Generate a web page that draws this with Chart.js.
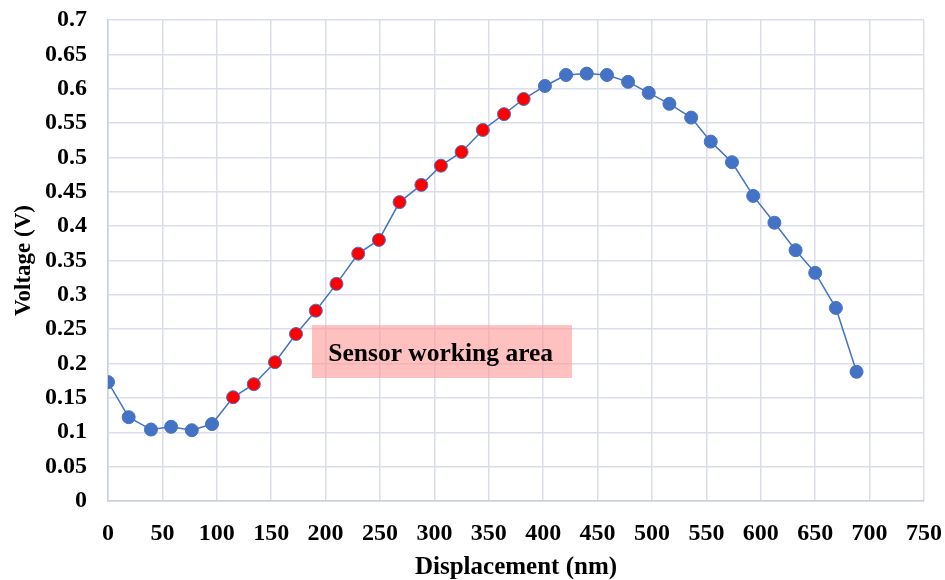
<!DOCTYPE html>
<html>
<head>
<meta charset="utf-8">
<script src="https://cdn.jsdelivr.net/npm/chart.js@4/dist/chart.umd.min.js"></script>
<style>
  html, body { margin: 0; padding: 0; background: #ffffff; }
  #wrap { width: 945px; height: 580px; position: relative; }
</style>
</head>
<body>
<div id="wrap"><canvas id="c" width="945" height="580"></canvas></div>
<script>
// Data
const displacement = [0, 19, 39.5, 58, 77, 95.6, 115, 134, 153.5, 172.8, 191, 210, 230, 249, 268, 288, 306, 325, 344.5, 364, 382, 401.6, 421, 440, 458.6, 478, 497, 516, 536, 554, 573.5, 593, 612.5, 632, 650, 669, 688];
const voltage = [0.173, 0.122, 0.104, 0.108, 0.103, 0.112, 0.151, 0.170, 0.202, 0.243, 0.277, 0.316, 0.360, 0.380, 0.435, 0.460, 0.488, 0.508, 0.540, 0.563, 0.585, 0.604, 0.620, 0.622, 0.620, 0.610, 0.594, 0.578, 0.558, 0.523, 0.493, 0.444, 0.405, 0.365, 0.332, 0.281, 0.188];
// working-area points (red), by index range
const workingStart = 6;
const workingEnd = 20;
const xTicks = [0, 50, 100, 150, 200, 250, 300, 350, 400, 450, 500, 550, 600, 650, 700, 750];
const yTicks = [0, 0.05, 0.1, 0.15, 0.2, 0.25, 0.3, 0.35, 0.4, 0.45, 0.5, 0.55, 0.6, 0.65, 0.7];
const annotationLabel = "Sensor working area";
const annotationBox = { xMin: 187.5, xMax: 426.5, yMin: 0.179, yMax: 0.256, textX: 202.5 };

const BLUE = '#4472C4';
const RED = '#FF0000';
const FONT = '"Liberation Serif", "Times New Roman", serif';

const points = displacement.map((x, i) => ({ x: x, y: voltage[i] }));
const fillColors = voltage.map((_, i) => (i >= workingStart && i <= workingEnd) ? RED : BLUE);

const boxPlugin = {
  id: 'workBox',
  afterDatasetsDraw(chart) {
    const { ctx, scales } = chart;
    const x1 = scales.x.getPixelForValue(annotationBox.xMin);
    const x2 = scales.x.getPixelForValue(annotationBox.xMax);
    const y1 = scales.y.getPixelForValue(annotationBox.yMax);
    const y2 = scales.y.getPixelForValue(annotationBox.yMin);
    ctx.save();
    ctx.fillStyle = 'rgba(255, 150, 150, 0.6)';
    ctx.fillRect(x1, y1, x2 - x1, y2 - y1);
    ctx.fillStyle = '#000000';
    ctx.font = 'bold 25.5px ' + FONT;
    ctx.textBaseline = 'middle';
    ctx.textAlign = 'left';
    ctx.fillText(annotationLabel, scales.x.getPixelForValue(annotationBox.textX), (y1 + y2) / 2 + 3);
    ctx.restore();
  }
};

const fmt = v => parseFloat(Number(v).toFixed(2)).toString();

new Chart(document.getElementById('c'), {
  type: 'scatter',
  data: {
    datasets: [{
      data: points,
      showLine: true,
      borderColor: BLUE,
      borderWidth: 1.5,
      pointBackgroundColor: fillColors,
      pointBorderColor: BLUE,
      pointBorderWidth: 1,
      pointRadius: 6.5,
      tension: 0
    }]
  },
  options: {
    responsive: false,
    animation: false,
    devicePixelRatio: 1,
    layout: { padding: { left: 0, right: 21, top: 20, bottom: 0 } },
    plugins: { legend: { display: false }, tooltip: { enabled: false } },
    scales: {
      x: {
        type: 'linear',
        min: 0, max: 750,
        afterBuildTicks(axis) { axis.ticks = xTicks.map(v => ({ value: v })); },
        afterFit(axis) { axis.height = 79; axis.paddingLeft = 0; axis.paddingRight = 0; axis.paddingTop = 0; axis.paddingBottom = 0; },
        grid: { color: '#D9DEE8', lineWidth: 1.5, drawTicks: false },
        border: { color: '#C9D0DC', width: 1.5 },
        ticks: { color: '#000', padding: 18, maxRotation: 0, font: { family: FONT, size: 24, weight: 'bold' }, callback: fmt },
        title: { display: true, text: 'Displacement (nm)', color: '#000', padding: { top: 0, bottom: 0 }, font: { family: FONT, size: 25, weight: 'bold', lineHeight: 1 } }
      },
      y: {
        type: 'linear',
        min: 0, max: 0.7,
        afterBuildTicks(axis) { axis.ticks = yTicks.map(v => ({ value: v })); },
        afterFit(axis) { axis.width = 108; axis.paddingLeft = 0; axis.paddingRight = 0; axis.paddingTop = 0; axis.paddingBottom = 0; },
        grid: { color: '#D9DEE8', lineWidth: 1.5, drawTicks: false },
        border: { color: '#C9D0DC', width: 1.5 },
        ticks: { color: '#000', padding: 21, font: { family: FONT, size: 24, weight: 'bold' }, callback: fmt },
        title: { display: true, text: 'Voltage (V)', color: '#000', padding: { top: 10, bottom: 0 }, font: { family: FONT, size: 23, weight: 'bold' } }
      }
    }
  },
  plugins: [boxPlugin]
});
</script>
</body>
</html>
